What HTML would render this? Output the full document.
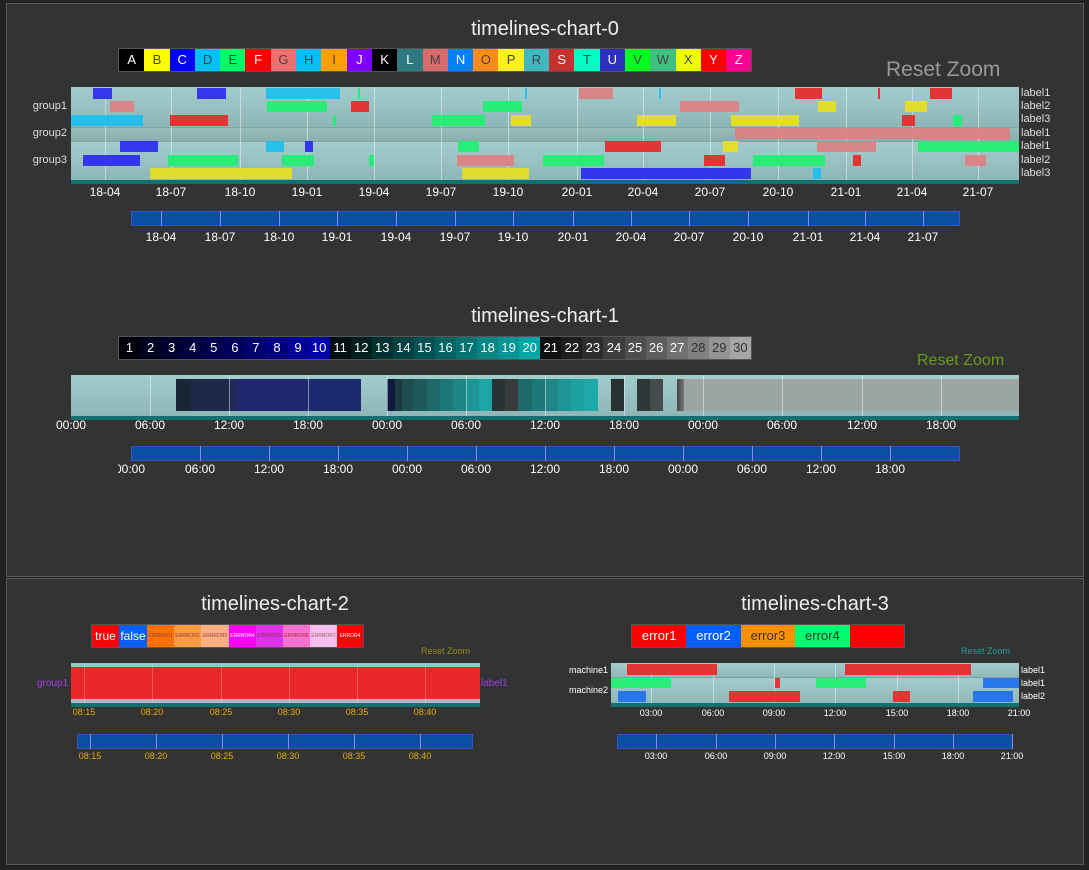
<!DOCTYPE html>
<html><head><meta charset="utf-8"><style>
*{margin:0;padding:0;box-sizing:border-box}
body{width:1089px;height:870px;background:#222;position:relative;overflow:hidden;font-family:"Liberation Sans","DejaVu Sans",sans-serif;color:#fff}
.p{position:absolute;background:#333;border:1px solid #5a5a5a}
i,b,s,u,em{position:absolute;display:block;font-style:normal;text-decoration:none;font-weight:normal}
.t{position:absolute;font-size:20px;color:#eee;transform:translateX(-50%);white-space:nowrap}
.c{transform:translateX(-50%);white-space:nowrap;position:absolute}
.lg{position:absolute;display:flex;border:1px solid #555}
.lg span{display:block;text-align:center;color:#fff}
.g{position:absolute;width:1px;background:rgba(255,255,255,.45)}
.bt{position:absolute;width:1px;background:rgba(170,170,255,.7)}
.x0{font-size:12px;top:185px}
.x0b{font-size:12px;top:230px}
.x1{font-size:12px;top:418px}
.x1b{font-size:12px;top:462px}
.bar{position:absolute;opacity:.92}
.r{position:absolute;font-size:11px;color:#ddd}
</style></head><body>
<div class="p" style="left:6px;top:3px;width:1078px;height:574px"></div>
<div class="p" style="left:6px;top:578px;width:1078px;height:287px"></div>

<!-- chart 0 -->
<div class="t" style="left:545px;top:18px">timelines-chart-0</div>
<div class="lg" style="left:118px;top:48px;height:24px;font-size:13px;line-height:22px">
<span style="width:25.3px;background:#000">A</span><span style="width:25.3px;background:#ff0;color:#444">B</span><span style="width:25.3px;background:#00f">C</span><span style="width:25.3px;background:#00bfff;color:#444">D</span><span style="width:25.3px;background:#00ff66;color:#444">E</span><span style="width:25.3px;background:#f00">F</span><span style="width:25.3px;background:#f07070;color:#444">G</span><span style="width:25.3px;background:#00bfff;color:#444">H</span><span style="width:25.3px;background:#ff9f00;color:#444">I</span><span style="width:25.3px;background:#8000ff">J</span><span style="width:25.3px;background:#000">K</span><span style="width:25.3px;background:#2f7a80">L</span><span style="width:25.3px;background:#d96b6b;color:#444">M</span><span style="width:25.3px;background:#0080ff">N</span><span style="width:25.3px;background:#ff8c1a;color:#444">O</span><span style="width:25.3px;background:#fff022;color:#444">P</span><span style="width:25.3px;background:#40b8c0;color:#444">R</span><span style="width:25.3px;background:#c83030">S</span><span style="width:25.3px;background:#00ffc0;color:#444">T</span><span style="width:25.3px;background:#3030c0">U</span><span style="width:25.3px;background:#00ff20;color:#444">V</span><span style="width:25.3px;background:#40c080;color:#444">W</span><span style="width:25.3px;background:#f0ff00;color:#444">X</span><span style="width:25.3px;background:#f00">Y</span><span style="width:25.3px;background:#ff0090">Z</span>
</div>
<div style="position:absolute;left:886px;top:58px;font-size:21px;color:#999">Reset Zoom</div>

<i style="left:71px;top:87px;width:948px;height:40px;background:linear-gradient(#a2cccc,#8fb6b6)"></i>
<i style="left:71px;top:127px;width:948px;height:14px;background:linear-gradient(#96bcbc,#88aeae);border-top:1px solid #80a4a4"></i>
<i style="left:71px;top:141px;width:948px;height:39px;background:linear-gradient(#a2cccc,#8fb6b6);border-top:1px solid #80a4a4"></i>
<i style="left:71px;top:180px;width:948px;height:4px;background:#127070"></i>
<i class="g" style="left:105px;top:87px;height:93px"></i><i class="g" style="left:171px;top:87px;height:93px"></i><i class="g" style="left:240px;top:87px;height:93px"></i><i class="g" style="left:307px;top:87px;height:93px"></i><i class="g" style="left:374px;top:87px;height:93px"></i><i class="g" style="left:441px;top:87px;height:93px"></i><i class="g" style="left:508px;top:87px;height:93px"></i><i class="g" style="left:577px;top:87px;height:93px"></i><i class="g" style="left:643px;top:87px;height:93px"></i><i class="g" style="left:710px;top:87px;height:93px"></i><i class="g" style="left:778px;top:87px;height:93px"></i><i class="g" style="left:846px;top:87px;height:93px"></i><i class="g" style="left:912px;top:87px;height:93px"></i><i class="g" style="left:978px;top:87px;height:93px"></i>
<!-- row1 -->
<i class="bar" style="left:93px;top:88px;width:19px;height:11px;background:#2a2af0"></i>
<i class="bar" style="left:197px;top:88px;width:29px;height:11px;background:#2a2af0"></i>
<i class="bar" style="left:266px;top:88px;width:74px;height:11px;background:#1ebef0"></i>
<i class="bar" style="left:358px;top:88px;width:2px;height:11px;background:#1ef070"></i>
<i class="bar" style="left:525px;top:88px;width:2px;height:11px;background:#1ebef0"></i>
<i class="bar" style="left:579px;top:88px;width:34px;height:11px;background:#dc8080"></i>
<i class="bar" style="left:659px;top:88px;width:2px;height:11px;background:#1ebef0"></i>
<i class="bar" style="left:795px;top:88px;width:27px;height:11px;background:#e82828"></i>
<i class="bar" style="left:878px;top:88px;width:2px;height:11px;background:#e82828"></i>
<i class="bar" style="left:930px;top:88px;width:22px;height:11px;background:#e82828"></i>
<!-- row2 -->
<i class="bar" style="left:110px;top:101px;width:24px;height:11px;background:#dc8080"></i>
<i class="bar" style="left:267px;top:101px;width:60px;height:11px;background:#1ef070"></i>
<i class="bar" style="left:351px;top:101px;width:18px;height:11px;background:#e82828"></i>
<i class="bar" style="left:483px;top:101px;width:39px;height:11px;background:#1ef070"></i>
<i class="bar" style="left:680px;top:101px;width:59px;height:11px;background:#dc8080"></i>
<i class="bar" style="left:818px;top:101px;width:18px;height:11px;background:#e8e020"></i>
<i class="bar" style="left:905px;top:101px;width:22px;height:11px;background:#e8e020"></i>
<!-- row3 -->
<i class="bar" style="left:71px;top:115px;width:72px;height:11px;background:#1ebef0"></i>
<i class="bar" style="left:170px;top:115px;width:58px;height:11px;background:#e82828"></i>
<i class="bar" style="left:333px;top:115px;width:3px;height:11px;background:#1ef070"></i>
<i class="bar" style="left:432px;top:115px;width:53px;height:11px;background:#1ef070"></i>
<i class="bar" style="left:511px;top:115px;width:20px;height:11px;background:#e8e020"></i>
<i class="bar" style="left:637px;top:115px;width:39px;height:11px;background:#e8e020"></i>
<i class="bar" style="left:731px;top:115px;width:68px;height:11px;background:#e8e020"></i>
<i class="bar" style="left:902px;top:115px;width:13px;height:11px;background:#e82828"></i>
<i class="bar" style="left:953px;top:115px;width:9px;height:11px;background:#1ef070"></i>
<!-- row4 -->
<i class="bar" style="left:735px;top:128px;width:275px;height:11px;background:#dc8080"></i>
<!-- row5 -->
<i class="bar" style="left:120px;top:141px;width:38px;height:11px;background:#2a2af0"></i>
<i class="bar" style="left:266px;top:141px;width:18px;height:11px;background:#1ebef0"></i>
<i class="bar" style="left:305px;top:141px;width:8px;height:11px;background:#2a2af0"></i>
<i class="bar" style="left:458px;top:141px;width:21px;height:11px;background:#1ef070"></i>
<i class="bar" style="left:605px;top:141px;width:56px;height:11px;background:#e82828"></i>
<i class="bar" style="left:723px;top:141px;width:15px;height:11px;background:#e8e020"></i>
<i class="bar" style="left:817px;top:141px;width:59px;height:11px;background:#dc8080"></i>
<i class="bar" style="left:918px;top:141px;width:101px;height:11px;background:#1ef070"></i>
<!-- row6 -->
<i class="bar" style="left:83px;top:155px;width:57px;height:11px;background:#2a2af0"></i>
<i class="bar" style="left:168px;top:155px;width:70px;height:11px;background:#1ef070"></i>
<i class="bar" style="left:282px;top:155px;width:32px;height:11px;background:#1ef070"></i>
<i class="bar" style="left:369px;top:155px;width:5px;height:11px;background:#1ef070"></i>
<i class="bar" style="left:457px;top:155px;width:57px;height:11px;background:#dc8080"></i>
<i class="bar" style="left:543px;top:155px;width:61px;height:11px;background:#1ef070"></i>
<i class="bar" style="left:704px;top:155px;width:21px;height:11px;background:#e82828"></i>
<i class="bar" style="left:753px;top:155px;width:72px;height:11px;background:#1ef070"></i>
<i class="bar" style="left:853px;top:155px;width:8px;height:11px;background:#e82828"></i>
<i class="bar" style="left:965px;top:155px;width:21px;height:11px;background:#dc8080"></i>
<!-- row7 -->
<i class="bar" style="left:150px;top:168px;width:142px;height:11px;background:#e8e020"></i>
<i class="bar" style="left:462px;top:168px;width:67px;height:11px;background:#e8e020"></i>
<i class="bar" style="left:581px;top:168px;width:170px;height:11px;background:#2a2af0"></i>
<i class="bar" style="left:813px;top:168px;width:8px;height:11px;background:#1ebef0"></i>

<div class="r" style="right:1022px;top:100px;font-size:11px">group1</div>
<div class="r" style="right:1022px;top:127px">group2</div>
<div class="r" style="right:1022px;top:154px">group3</div>
<div class="r" style="left:1021px;top:87px">label1</div>
<div class="r" style="left:1021px;top:100px">label2</div>
<div class="r" style="left:1021px;top:113px">label3</div>
<div class="r" style="left:1021px;top:127px">label1</div>
<div class="r" style="left:1021px;top:140px">label1</div>
<div class="r" style="left:1021px;top:154px">label2</div>
<div class="r" style="left:1021px;top:167px">label3</div>

<span class="c x0" style="left:105px">18-04</span><span class="c x0" style="left:171px">18-07</span><span class="c x0" style="left:240px">18-10</span><span class="c x0" style="left:307px">19-01</span><span class="c x0" style="left:374px">19-04</span><span class="c x0" style="left:441px">19-07</span><span class="c x0" style="left:508px">19-10</span><span class="c x0" style="left:577px">20-01</span><span class="c x0" style="left:643px">20-04</span><span class="c x0" style="left:710px">20-07</span><span class="c x0" style="left:778px">20-10</span><span class="c x0" style="left:846px">21-01</span><span class="c x0" style="left:912px">21-04</span><span class="c x0" style="left:978px">21-07</span>

<i style="left:131px;top:211px;width:829px;height:15px;background:#0a4fa0;border:1px solid #3a50d0"></i>
<i class="bt" style="left:161px;top:211px;height:15px"></i><i class="bt" style="left:220px;top:211px;height:15px"></i><i class="bt" style="left:279px;top:211px;height:15px"></i><i class="bt" style="left:337px;top:211px;height:15px"></i><i class="bt" style="left:396px;top:211px;height:15px"></i><i class="bt" style="left:455px;top:211px;height:15px"></i><i class="bt" style="left:513px;top:211px;height:15px"></i><i class="bt" style="left:573px;top:211px;height:15px"></i><i class="bt" style="left:631px;top:211px;height:15px"></i><i class="bt" style="left:689px;top:211px;height:15px"></i><i class="bt" style="left:748px;top:211px;height:15px"></i><i class="bt" style="left:808px;top:211px;height:15px"></i><i class="bt" style="left:865px;top:211px;height:15px"></i><i class="bt" style="left:923px;top:211px;height:15px"></i>
<span class="c x0b" style="left:161px">18-04</span><span class="c x0b" style="left:220px">18-07</span><span class="c x0b" style="left:279px">18-10</span><span class="c x0b" style="left:337px">19-01</span><span class="c x0b" style="left:396px">19-04</span><span class="c x0b" style="left:455px">19-07</span><span class="c x0b" style="left:513px">19-10</span><span class="c x0b" style="left:573px">20-01</span><span class="c x0b" style="left:631px">20-04</span><span class="c x0b" style="left:689px">20-07</span><span class="c x0b" style="left:748px">20-10</span><span class="c x0b" style="left:808px">21-01</span><span class="c x0b" style="left:865px">21-04</span><span class="c x0b" style="left:923px">21-07</span>

<!-- chart 1 -->
<div class="t" style="left:545px;top:305px">timelines-chart-1</div>
<div class="lg" style="left:118px;top:336px;height:24px;font-size:13px;line-height:22px">
<span style="width:21.07px;background:#00000c">1</span><span style="width:21.07px;background:#000020">2</span><span style="width:21.07px;background:#000030">3</span><span style="width:21.07px;background:#00003c">4</span><span style="width:21.07px;background:#00004c">5</span><span style="width:21.07px;background:#00005c">6</span><span style="width:21.07px;background:#00006e">7</span><span style="width:21.07px;background:#000080">8</span><span style="width:21.07px;background:#000096">9</span><span style="width:21.07px;background:#0000aa">10</span><span style="width:21.07px;background:#001010">11</span><span style="width:21.07px;background:#002020">12</span><span style="width:21.07px;background:#003232">13</span><span style="width:21.07px;background:#004242">14</span><span style="width:21.07px;background:#005252">15</span><span style="width:21.07px;background:#006262">16</span><span style="width:21.07px;background:#007272">17</span><span style="width:21.07px;background:#008484">18</span><span style="width:21.07px;background:#009494">19</span><span style="width:21.07px;background:#00a6a6">20</span><span style="width:21.07px;background:#101010">21</span><span style="width:21.07px;background:#1e1e1e">22</span><span style="width:21.07px;background:#2e2e2e">23</span><span style="width:21.07px;background:#3e3e3e">24</span><span style="width:21.07px;background:#4e4e4e">25</span><span style="width:21.07px;background:#5e5e5e">26</span><span style="width:21.07px;background:#707070">27</span><span style="width:21.07px;background:#828282;color:#333">28</span><span style="width:21.07px;background:#949494;color:#333">29</span><span style="width:21.07px;background:#a6a6a6;color:#333">30</span>
</div>
<div style="position:absolute;left:917px;top:352px;font-size:16px;color:#6a9a20">Reset Zoom</div>
<i style="left:71px;top:375px;width:948px;height:41px;background:linear-gradient(#a2cccc,#8fb6b6)"></i>
<i style="left:71px;top:416px;width:948px;height:4px;background:#127070"></i>
<i class="bar" style="left:176px;top:379px;width:15px;height:32px;background:#1a2535;opacity:1"></i>
<i class="bar" style="left:191px;top:379px;width:38px;height:32px;background:#1e2848;opacity:1"></i>
<i class="bar" style="left:229px;top:379px;width:8px;height:32px;background:#20285a;opacity:1"></i>
<i class="bar" style="left:237px;top:379px;width:72px;height:32px;background:#202870;opacity:1"></i>
<i class="bar" style="left:309px;top:379px;width:52px;height:32px;background:#1e2a6e;opacity:1"></i>
<i class="bar" style="left:387px;top:379px;width:8px;height:32px;background:#101840;opacity:1"></i>
<i class="bar" style="left:395px;top:379px;width:7px;height:32px;background:#1a3a40;opacity:1"></i>
<i class="bar" style="left:402px;top:379px;width:12px;height:32px;background:#1e4e50;opacity:1"></i>
<i class="bar" style="left:414px;top:379px;width:13px;height:32px;background:#1e5a5a;opacity:1"></i>
<i class="bar" style="left:427px;top:379px;width:13px;height:32px;background:#1e6868;opacity:1"></i>
<i class="bar" style="left:440px;top:379px;width:13px;height:32px;background:#1e7676;opacity:1"></i>
<i class="bar" style="left:453px;top:379px;width:13px;height:32px;background:#1e8686;opacity:1"></i>
<i class="bar" style="left:466px;top:379px;width:13px;height:32px;background:#1e9696;opacity:1"></i>
<i class="bar" style="left:479px;top:379px;width:13px;height:32px;background:#1ea6a6;opacity:1"></i>
<i class="bar" style="left:492px;top:379px;width:13px;height:32px;background:#2a3333;opacity:1"></i>
<i class="bar" style="left:505px;top:379px;width:13px;height:32px;background:#363c3c;opacity:1"></i>
<i class="bar" style="left:518px;top:379px;width:14px;height:32px;background:#1e6a6a;opacity:1"></i>
<i class="bar" style="left:532px;top:379px;width:13px;height:32px;background:#1e7878;opacity:1"></i>
<i class="bar" style="left:545px;top:379px;width:13px;height:32px;background:#1e8686;opacity:1"></i>
<i class="bar" style="left:558px;top:379px;width:13px;height:32px;background:#1e9494;opacity:1"></i>
<i class="bar" style="left:571px;top:379px;width:13px;height:32px;background:#1ea0a0;opacity:1"></i>
<i class="bar" style="left:584px;top:379px;width:14px;height:32px;background:#1ea8a8;opacity:1"></i>
<i class="bar" style="left:611px;top:379px;width:13px;height:32px;background:#283232;opacity:1"></i>
<i class="bar" style="left:637px;top:379px;width:13px;height:32px;background:#2e3838;opacity:1"></i>
<i class="bar" style="left:650px;top:379px;width:13px;height:32px;background:#444c4c;opacity:1"></i>
<i class="bar" style="left:677px;top:379px;width:7px;height:32px;background:linear-gradient(90deg,#444,#777);opacity:1"></i>
<i class="bar" style="left:684px;top:379px;width:335px;height:32px;background:#9ca4a4;opacity:1"></i>
<i class="g" style="left:150px;top:375px;height:41px"></i><i class="g" style="left:229px;top:375px;height:41px"></i><i class="g" style="left:308px;top:375px;height:41px"></i><i class="g" style="left:387px;top:375px;height:41px"></i><i class="g" style="left:466px;top:375px;height:41px"></i><i class="g" style="left:545px;top:375px;height:41px"></i><i class="g" style="left:624px;top:375px;height:41px"></i><i class="g" style="left:703px;top:375px;height:41px"></i><i class="g" style="left:782px;top:375px;height:41px"></i><i class="g" style="left:862px;top:375px;height:41px"></i><i class="g" style="left:941px;top:375px;height:41px"></i>
<span class="c x1" style="left:71px">00:00</span><span class="c x1" style="left:150px">06:00</span><span class="c x1" style="left:229px">12:00</span><span class="c x1" style="left:308px">18:00</span><span class="c x1" style="left:387px">00:00</span><span class="c x1" style="left:466px">06:00</span><span class="c x1" style="left:545px">12:00</span><span class="c x1" style="left:624px">18:00</span><span class="c x1" style="left:703px">00:00</span><span class="c x1" style="left:782px">06:00</span><span class="c x1" style="left:862px">12:00</span><span class="c x1" style="left:941px">18:00</span>
<i style="left:131px;top:446px;width:829px;height:15px;background:#0a4fa0;border:1px solid #3a50d0"></i>
<i class="bt" style="left:200px;top:446px;height:15px"></i><i class="bt" style="left:269px;top:446px;height:15px"></i><i class="bt" style="left:338px;top:446px;height:15px"></i><i class="bt" style="left:407px;top:446px;height:15px"></i><i class="bt" style="left:476px;top:446px;height:15px"></i><i class="bt" style="left:545px;top:446px;height:15px"></i><i class="bt" style="left:614px;top:446px;height:15px"></i><i class="bt" style="left:683px;top:446px;height:15px"></i><i class="bt" style="left:752px;top:446px;height:15px"></i><i class="bt" style="left:821px;top:446px;height:15px"></i><i class="bt" style="left:890px;top:446px;height:15px"></i>
<div style="position:absolute;left:118px;top:462px;width:30px;height:16px;overflow:hidden;font-size:12px"><span style="position:absolute;left:-3px;top:0">00:00</span></div>
<span class="c x1b" style="left:200px">06:00</span><span class="c x1b" style="left:269px">12:00</span><span class="c x1b" style="left:338px">18:00</span><span class="c x1b" style="left:407px">00:00</span><span class="c x1b" style="left:476px">06:00</span><span class="c x1b" style="left:545px">12:00</span><span class="c x1b" style="left:614px">18:00</span><span class="c x1b" style="left:683px">00:00</span><span class="c x1b" style="left:752px">06:00</span><span class="c x1b" style="left:821px">12:00</span><span class="c x1b" style="left:890px">18:00</span>

<!-- chart 2 -->
<div class="t" style="left:275px;top:593px">timelines-chart-2</div>
<div class="lg" style="left:91px;top:624px;height:24px;line-height:22px;font-size:5px">
<span style="width:27px;background:#f00;font-size:12px">true</span><span style="width:28px;background:#0060ff;font-size:12px">false</span><span style="width:27px;background:#ff7000;color:#844">ERRROR1</span><span style="width:27px;background:#ff9a40;color:#844">ERRROR2</span><span style="width:28px;background:#ffb080;color:#844">ERRROR3</span><span style="width:27px;background:#ff00ff">ERRROR4</span><span style="width:27px;background:#e030f0;color:#833">ERRROR5</span><span style="width:27px;background:#ff70d0;color:#833">ERRROR6</span><span style="width:27px;background:#f8c0f0;color:#866">ERRROR7</span><span style="width:26px;background:#f00">ERROR4</span>
</div>
<div style="position:absolute;left:421px;top:646px;font-size:9px;color:#9a8a20">Reset Zoom</div>
<i style="left:71px;top:663px;width:409px;height:40px;background:#98c4c4"></i>
<i style="left:71px;top:667px;width:409px;height:32px;background:#e82828"></i>
<i style="left:71px;top:703px;width:409px;height:4px;background:#127070"></i>
<i class="g" style="left:84px;top:663px;height:40px;opacity:.5"></i><i class="g" style="left:152px;top:663px;height:40px;opacity:.5"></i><i class="g" style="left:221px;top:663px;height:40px;opacity:.5"></i><i class="g" style="left:289px;top:663px;height:40px;opacity:.5"></i><i class="g" style="left:357px;top:663px;height:40px;opacity:.5"></i><i class="g" style="left:425px;top:663px;height:40px;opacity:.5"></i>
<div style="position:absolute;left:37px;top:678px;font-size:10px;color:#a040e0">group1</div>
<div style="position:absolute;left:481px;top:678px;font-size:10px;color:#a040e0">label1</div>
<span class="c" style="left:84px;top:707px;font-size:9px;color:#e0b000">08:15</span><span class="c" style="left:152px;top:707px;font-size:9px;color:#e0b000">08:20</span><span class="c" style="left:221px;top:707px;font-size:9px;color:#e0b000">08:25</span><span class="c" style="left:289px;top:707px;font-size:9px;color:#e0b000">08:30</span><span class="c" style="left:357px;top:707px;font-size:9px;color:#e0b000">08:35</span><span class="c" style="left:425px;top:707px;font-size:9px;color:#e0b000">08:40</span>
<i style="left:77px;top:734px;width:396px;height:15px;background:#0a4fa0;border:1px solid #3a50d0"></i>
<i class="bt" style="left:90px;top:734px;height:15px"></i><i class="bt" style="left:156px;top:734px;height:15px"></i><i class="bt" style="left:222px;top:734px;height:15px"></i><i class="bt" style="left:288px;top:734px;height:15px"></i><i class="bt" style="left:354px;top:734px;height:15px"></i><i class="bt" style="left:420px;top:734px;height:15px"></i>
<span class="c" style="left:90px;top:751px;font-size:9px;color:#e0b000">08:15</span><span class="c" style="left:156px;top:751px;font-size:9px;color:#e0b000">08:20</span><span class="c" style="left:222px;top:751px;font-size:9px;color:#e0b000">08:25</span><span class="c" style="left:288px;top:751px;font-size:9px;color:#e0b000">08:30</span><span class="c" style="left:354px;top:751px;font-size:9px;color:#e0b000">08:35</span><span class="c" style="left:420px;top:751px;font-size:9px;color:#e0b000">08:40</span>

<!-- chart 3 -->
<div class="t" style="left:815px;top:593px">timelines-chart-3</div>
<div class="lg" style="left:631px;top:624px;height:24px;line-height:22px;font-size:13px">
<span style="width:54.4px;background:#f00">error1</span><span style="width:54.4px;background:#0060ff">error2</span><span style="width:54.4px;background:#ff9000;color:#333">error3</span><span style="width:54.4px;background:#00ff70;color:#333">error4</span><span style="width:54.4px;background:#f00"></span>
</div>
<div style="position:absolute;left:961px;top:646px;font-size:9px;color:#20a0a0">Reset Zoom</div>
<i style="left:611px;top:663px;width:408px;height:14px;background:linear-gradient(#a2cccc,#90b8b8)"></i>
<i style="left:611px;top:677px;width:408px;height:26px;background:linear-gradient(#a2cccc,#90b8b8);border-top:1px solid #80a4a4"></i>
<i style="left:611px;top:703px;width:408px;height:4px;background:#127070"></i>
<i class="g" style="left:651px;top:663px;height:40px"></i><i class="g" style="left:713px;top:663px;height:40px"></i><i class="g" style="left:774px;top:663px;height:40px"></i><i class="g" style="left:835px;top:663px;height:40px"></i><i class="g" style="left:897px;top:663px;height:40px"></i><i class="g" style="left:958px;top:663px;height:40px"></i>
<i class="bar" style="left:627px;top:664px;width:90px;height:11px;background:#e82828"></i>
<i class="bar" style="left:845px;top:664px;width:126px;height:11px;background:#e82828"></i>
<i class="bar" style="left:611px;top:678px;width:60px;height:10px;background:#1ef070"></i>
<i class="bar" style="left:775px;top:678px;width:5px;height:10px;background:#e82828"></i>
<i class="bar" style="left:816px;top:678px;width:50px;height:10px;background:#1ef070"></i>
<i class="bar" style="left:983px;top:678px;width:36px;height:10px;background:#1e70f0"></i>
<i class="bar" style="left:618px;top:691px;width:28px;height:11px;background:#1e70f0"></i>
<i class="bar" style="left:729px;top:691px;width:71px;height:11px;background:#e82828"></i>
<i class="bar" style="left:893px;top:691px;width:17px;height:11px;background:#e82828"></i>
<i class="bar" style="left:973px;top:691px;width:40px;height:11px;background:#1e70f0"></i>
<div style="position:absolute;right:481px;top:665px;font-size:9px;color:#fff">machine1</div>
<div style="position:absolute;right:481px;top:685px;font-size:9px;color:#fff">machine2</div>
<div style="position:absolute;left:1021px;top:665px;font-size:9px">label1</div>
<div style="position:absolute;left:1021px;top:678px;font-size:9px">label1</div>
<div style="position:absolute;left:1021px;top:691px;font-size:9px">label2</div>
<span class="c" style="left:651px;top:708px;font-size:9px">03:00</span><span class="c" style="left:713px;top:708px;font-size:9px">06:00</span><span class="c" style="left:774px;top:708px;font-size:9px">09:00</span><span class="c" style="left:835px;top:708px;font-size:9px">12:00</span><span class="c" style="left:897px;top:708px;font-size:9px">15:00</span><span class="c" style="left:958px;top:708px;font-size:9px">18:00</span><span class="c" style="left:1019px;top:708px;font-size:9px">21:00</span>
<i style="left:617px;top:734px;width:396px;height:15px;background:#0a4fa0;border:1px solid #3a50d0"></i>
<i class="bt" style="left:656px;top:734px;height:15px"></i><i class="bt" style="left:716px;top:734px;height:15px"></i><i class="bt" style="left:775px;top:734px;height:15px"></i><i class="bt" style="left:834px;top:734px;height:15px"></i><i class="bt" style="left:894px;top:734px;height:15px"></i><i class="bt" style="left:953px;top:734px;height:15px"></i><i class="bt" style="left:1012px;top:734px;height:15px"></i>
<span class="c" style="left:656px;top:751px;font-size:9px">03:00</span><span class="c" style="left:716px;top:751px;font-size:9px">06:00</span><span class="c" style="left:775px;top:751px;font-size:9px">09:00</span><span class="c" style="left:834px;top:751px;font-size:9px">12:00</span><span class="c" style="left:894px;top:751px;font-size:9px">15:00</span><span class="c" style="left:953px;top:751px;font-size:9px">18:00</span><span class="c" style="left:1012px;top:751px;font-size:9px">21:00</span>
</body></html>
